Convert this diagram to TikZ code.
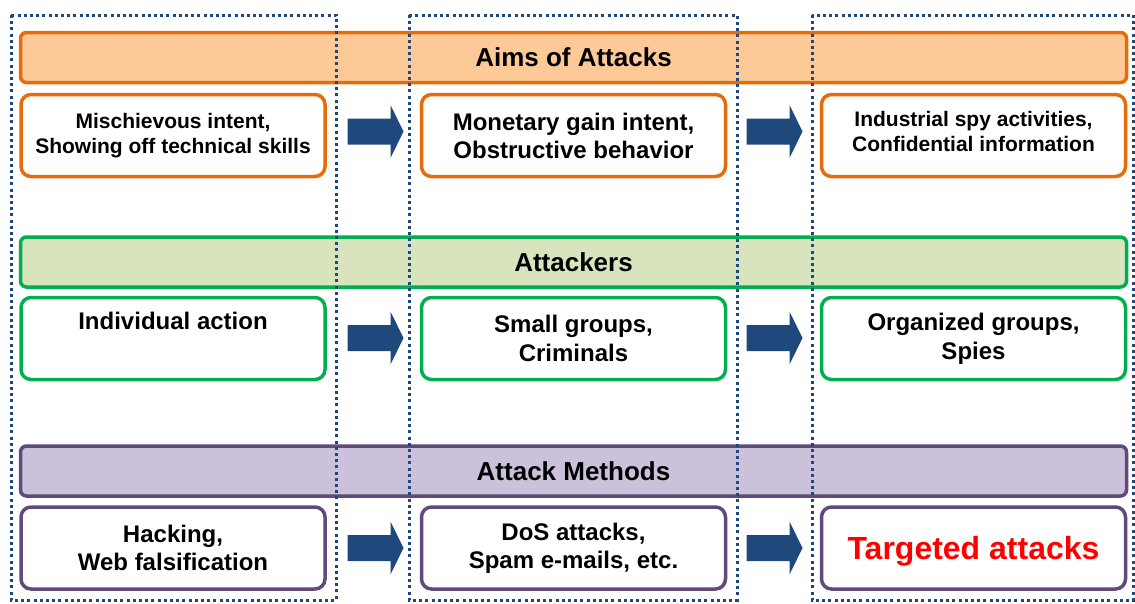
\documentclass[tikz,border=0pt]{standalone}
\usepackage{fontspec}
\setmainfont{Liberation Sans}
\definecolor{orbd}{HTML}{E46C0A}
\definecolor{orfl}{HTML}{FCC997}
\definecolor{grbd}{HTML}{00B050}
\definecolor{grfl}{HTML}{D7E4BD}
\definecolor{pubd}{HTML}{604A7B}
\definecolor{pufl}{HTML}{CCC1DA}
\definecolor{navy}{HTML}{1F497D}
\definecolor{tred}{HTML}{FF0000}
\tikzset{
  banner/.style={draw=#1, line width=3.5pt, rounded corners=6pt, minimum width=1106pt, minimum height=50pt, inner sep=0pt, font=\fontsize{26}{30}\selectfont\bfseries},
  itembox/.style={draw=#1, fill=white, line width=3.5pt, rounded corners=10pt, minimum width=304pt, minimum height=82pt, inner sep=0pt, align=center},
  itemtext/.style={inner sep=0pt, align=center},
  colframe/.style={draw=navy, line width=3pt, dash pattern=on 3pt off 3.2pt},
  blockarrow/.style={fill=navy, draw=none},
}
\newcommand{\blockarr}[2]{% center x, center y
  \fill[blockarrow] ({#1-28},{#2-13}) -- ({#1+15},{#2-13}) -- ({#1+15},{#2-26.5}) -- ({#1+28},{#2}) -- ({#1+15},{#2+26.5}) -- ({#1+15},{#2+13}) -- ({#1-28},{#2+13}) -- cycle;
}
\begin{document}
\begin{tikzpicture}[x=1pt,y=-1pt]
\useasboundingbox (0,0) rectangle (1135,603);
% banners
\node[banner=orbd, fill=orfl] (b1) at (573.5,57.5) {Aims of Attacks};
\node[banner=grbd, fill=grfl] (b2) at (573.5,262) {Attackers};
\node[banner=pubd, fill=pufl] (b3) at (573.5,471) {Attack Methods};
% row 1
\node[itembox=orbd, font=\fontsize{21}{25}\selectfont\bfseries] (a1) at (173,135.5) {Mischievous intent,\\Showing off technical skills};
\node[itembox=orbd, font=\fontsize{24}{28}\selectfont\bfseries] (a2) at (573.5,135.5) {Monetary gain intent,\\Obstructive behavior};
\node[itembox=orbd] (a3) at (973.5,135.5) {};
\node[itemtext, font=\fontsize{21}{24.5}\selectfont\bfseries] (a3t) at (973.5,131.5) {Industrial spy activities,\\Confidential information};
% row 2
\node[itembox=grbd, font=\fontsize{24}{29}\selectfont\bfseries] (p1) at (173,338.5) {Individual action\\[-3pt]\strut};
\node[itembox=grbd, font=\fontsize{24}{29}\selectfont\bfseries] (p2) at (573.5,338.5) {Small groups,\\Criminals};
\node[itembox=grbd, font=\fontsize{24}{29}\selectfont\bfseries] (p3) at (973.5,338.5) {Organized groups,\\Spies};
% row 3
\node[itembox=pubd, font=\fontsize{24}{28}\selectfont\bfseries] (m1) at (173,548) {Hacking,\\Web falsification};
\node[itembox=pubd, font=\fontsize{24}{28}\selectfont\bfseries] (m2) at (573.5,548) {DoS attacks,\\Spam e-mails, etc.};
\node[itembox=pubd] (m3) at (973.5,548) {};
\node[itemtext, font=\fontsize{32}{36}\selectfont\bfseries, text=tred] (m3t) at (973.5,551.5) {Targeted attacks};
% arrows
\blockarr{375.5}{131.5}
\blockarr{774.5}{131.5}
\blockarr{375.5}{338}
\blockarr{774.5}{338}
\blockarr{375.5}{548}
\blockarr{774.5}{548}
% column frames
\draw[colframe] (11,15) rectangle (336,600);
\draw[colframe] (409,15) rectangle (737,600);
\draw[colframe] (812,15) rectangle (1133,600);
\end{tikzpicture}
\end{document}
